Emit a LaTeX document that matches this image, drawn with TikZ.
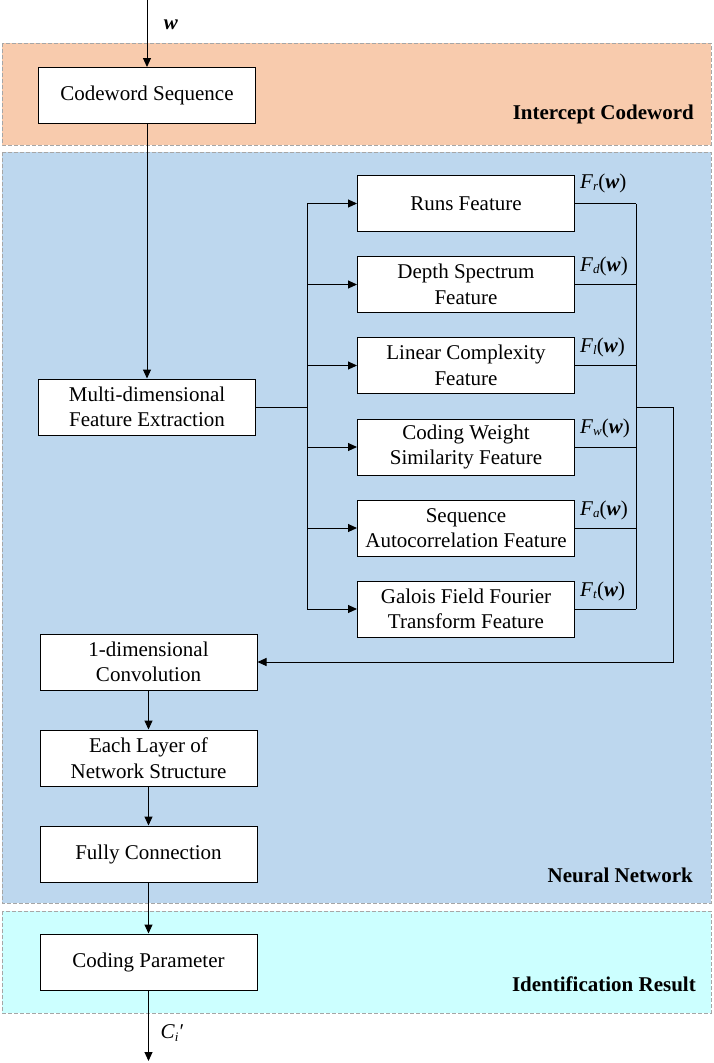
\documentclass[tikz,border=0pt]{standalone}
\usepackage{fontspec}
\setmainfont{Liberation Serif}
\usetikzlibrary{arrows.meta}
\definecolor{orangebg}{HTML}{F8CBAD}
\definecolor{bluebg}{HTML}{BDD7EE}
\definecolor{cyanbg}{HTML}{CCFFFF}
\definecolor{bordergray}{HTML}{A6A6A6}
\newcommand{\fsub}[2]{\textit{#1}\raisebox{-0.3ex}{\fontsize{13}{13}\selectfont\textit{#2}}}
\newcommand{\fw}[1]{\fsub{F}{#1}(\textbf{\textit{w}})}
\begin{document}
\begin{tikzpicture}[x=1pt,y=-1pt,
  font=\fontsize{21}{25.5}\selectfont,
  region/.style={draw=bordergray, line width=1pt, dash pattern=on 4pt off 2pt},
  regionlabel/.style={font=\fontsize{21}{25}\selectfont\bfseries, anchor=east, inner sep=0pt},
  box/.style={draw=black, fill=white, line width=1pt, minimum width=217pt, minimum height=56pt, align=center, inner sep=0pt},
  flabel/.style={anchor=west, inner sep=0pt},
  conn/.style={draw=black, line width=1pt},
  arr/.style={conn, -{Triangle[length=9pt,width=8pt]}}]
\useasboundingbox (0,0) rectangle (713,1063);
% regions
\draw[region, fill=orangebg] (2,43) rectangle (711,145);
\draw[region, fill=bluebg] (2,152) rectangle (711,903);
\draw[region, fill=cyanbg] (2,911) rectangle (711,1013);
\node[regionlabel] (lab1) at (694,114) {Intercept Codeword};
\node[regionlabel] (lab2) at (693,875) {Neural Network};
\node[regionlabel] (lab3) at (696,984) {Identification Result};
% main boxes
\node[box] (cs) at (147,95.5) {Codeword Sequence};
\node[box] (mfe) at (147,407) {Multi-dimensional\\Feature Extraction};
\node[box] (conv) at (148.5,662) {1-dimensional\\Convolution};
\node[box] (layer) at (148.5,758) {Each Layer of\\Network Structure};
\node[box] (fc) at (148.5,854) {Fully Connection};
\node[box] (cp) at (148.5,962) {Coding Parameter};
% feature boxes
\node[box] (f1) at (466,203.5) {Runs Feature};
\node[box] (f2) at (466,284.5) {Depth Spectrum\\Feature};
\node[box] (f3) at (466,365.5) {Linear Complexity\\Feature};
\node[box] (f4) at (466,447) {Coding Weight\\Similarity Feature};
\node[box] (f5) at (466,528) {Sequence\\Autocorrelation Feature};
\node[box] (f6) at (466,609) {Galois Field Fourier\\Transform Feature};
% labels
\node[flabel] (l1) at (580,183) {\fw{r}};
\node[flabel] (l2) at (580,266) {\fw{d}};
\node[flabel] (l3) at (580,347) {\fw{l}};
\node[flabel] (l4) at (580,428) {\fw{w}};
\node[flabel] (l5) at (580,510) {\fw{a}};
\node[flabel] (l6) at (580,591) {\fw{t}};
\coordinate (top) at (147,0);
\coordinate (bottom) at (148.5,1061);
\node (win) at (171,25) {\textbf{\textit{w}}};
\node (cout) at (172,1033) {\fsub{C}{i}\textit{\char"2032}};
% connectors
\draw[arr] (top) -- (cs.north);
\draw[arr] (cs.south) -- (mfe.north);
\coordinate (br) at (307,407);
\draw[conn] (mfe.east) -- (br);
\draw[conn] (br |- f1) -- (br |- f6);
\foreach \f in {f1,f2,f3,f4,f5,f6} {\draw[arr] (br |- \f) -- (\f.west);}
\coordinate (bus) at (636,407);
\foreach \f in {f1,f2,f3,f4,f5,f6} {\draw[conn] (\f.east) -- (bus |- \f);}
\draw[conn] (bus |- f1) -- (bus |- f6);
\coordinate (turn) at (673,662);
\draw[arr] (bus) -| (turn) -- (conv.east);
\draw[arr] (conv) -- (layer);
\draw[arr] (layer) -- (fc);
\draw[arr] (fc) -- (cp);
\draw[arr] (cp) -- (bottom);
\end{tikzpicture}
\end{document}
